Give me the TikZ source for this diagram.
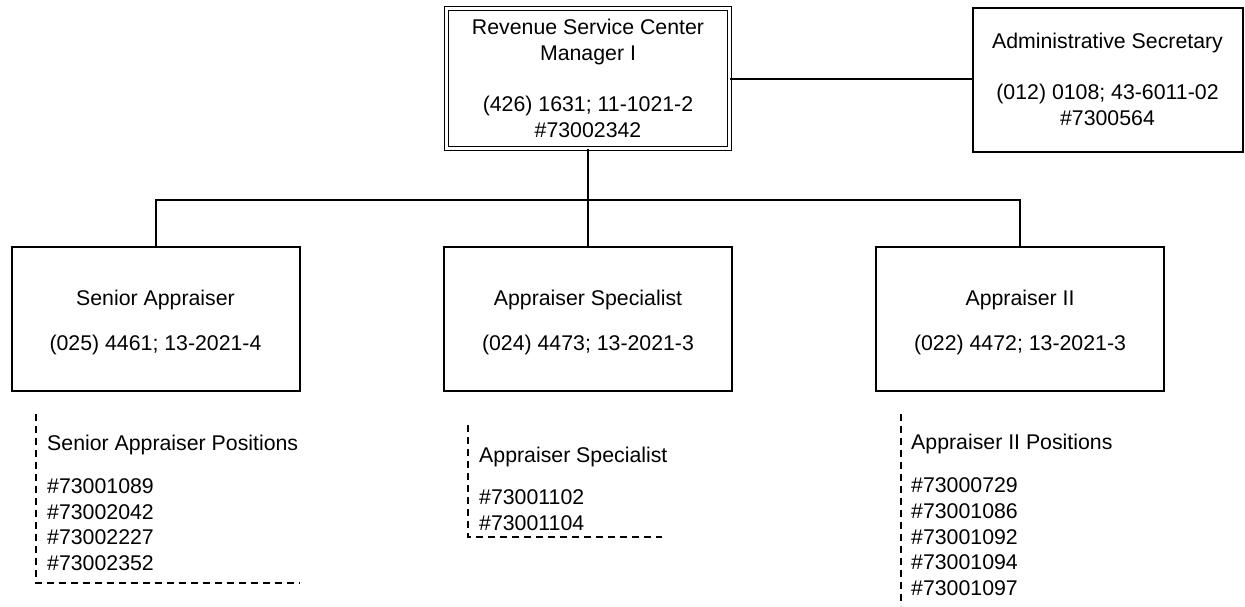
\documentclass[tikz,border=0pt]{standalone}
\usepackage{fontspec}
\setmainfont{Liberation Sans}
\begin{document}
\begin{tikzpicture}[x=1pt,y=-1pt,
  every node/.style={font=\fontsize{21.3}{25.7}\selectfont},
  post/.style={draw, line width=2pt, align=center, inner sep=0pt,
    minimum width=288pt, minimum height=144pt},
  head/.style={draw, double, double distance=2.5pt, line width=1.5pt,
    align=center, inner sep=0pt, minimum width=283pt, minimum height=140pt},
  link/.style={line width=2pt},
  roster/.style={align=left, inner sep=0pt, anchor=base west},
  bracket/.style={line width=1.8pt, dash pattern=on 7pt off 5pt}]
\useasboundingbox (0,0) rectangle (1245,606);

% top level
\node[head] (mgr) at (588,78.5)
  {Revenue Service Center\\Manager I\\[25.7pt](426) 1631; 11-1021-2\\\#73002342};
\node[post, minimum width=270pt] (adm) at (1107.5,79.5)
  {Administrative Secretary\\[25.7pt](012) 0108; 43-6011-02\\\#7300564};

% second level (the strut lowers the two lines a little inside the box)
\node[post] (sa) at (155.5,319)
  {\rule{0pt}{21.5pt}Senior Appraiser\\[19.3pt](025) 4461; 13-2021-4};
\node[post] (as) at (588,319)
  {\rule{0pt}{21.5pt}Appraiser Specialist\\[19.3pt](024) 4473; 13-2021-3};
\node[post] (a2) at (1020,319)
  {\rule{0pt}{21.5pt}Appraiser II\\[19.3pt](022) 4472; 13-2021-3};

% reporting lines
\coordinate (bus) at (588,199.5);
\draw[link] (mgr.east) -- (adm.west |- mgr.east);
\draw[link] (mgr.south) -- (bus);
\draw[link] (bus) -| (sa.north);
\draw[link] (bus) -- (as.north);
\draw[link] (bus) -| (a2.north);

% position lists (placed by the baseline of their last line)
\node[roster] (sal) at (47,570.5)
  {Senior Appraiser Positions\\[17.3pt]\#73001089\\\#73002042\\\#73002227\\\#73002352};
\draw[bracket] (36,414) -- (36,583) -- (300,583);

\node[roster] (asl) at (479,530.5)
  {Appraiser Specialist\\[16.3pt]\#73001102\\\#73001104};
\draw[bracket] (468,425) -- (468,537) -- (662,537);

\node[roster] (a2l) at (911,595.5)
  {Appraiser II Positions\\[17.3pt]\#73000729\\\#73001086\\\#73001092\\\#73001094\\\#73001097};
\draw[bracket] (901,414) -- (901,606);
\end{tikzpicture}
\end{document}
